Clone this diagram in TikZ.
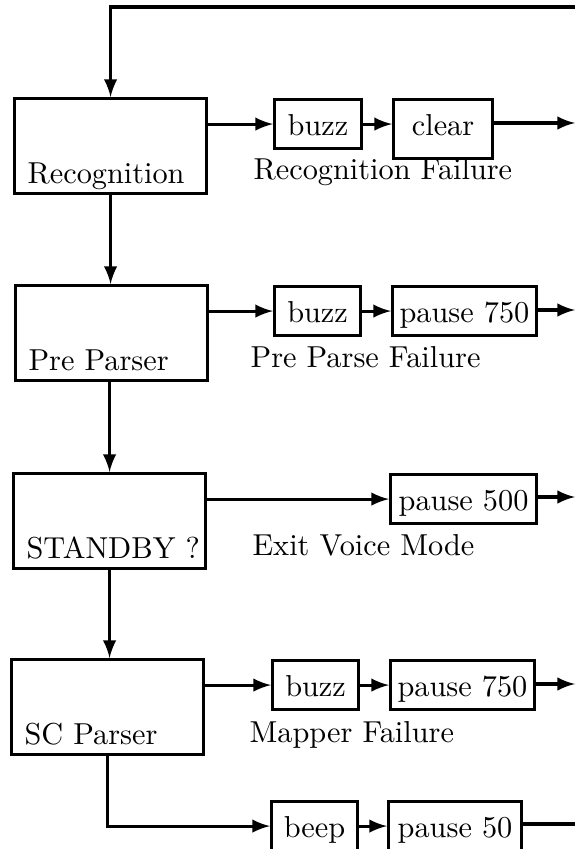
\documentclass[tikz,border=0pt]{standalone}
\usepackage{fontspec}
\setmainfont{Latin Modern Roman}
\tikzset{
  stage/.style={draw,line width=1pt,minimum width=63.4pt,minimum height=31.3pt,inner sep=0pt,anchor=north west},
  lbl/.style={anchor=base west,inner sep=0pt,xshift=4.6pt,yshift=3.7pt},
  act/.style={draw,line width=1pt,inner xsep=2pt,inner ysep=4.3pt,text height=7.6pt,text depth=0pt,anchor=north west},
  fail/.style={anchor=base west,inner sep=0pt},
  flow/.style={->,line width=1pt},
}
\begin{document}
\begin{tikzpicture}[>=latex,x=0.33pt,y=-0.33pt]
\useasboundingbox (0,0) rectangle (575,849);
% main stages
\node[stage,label={[lbl]south west:Recognition}] (rec) at (13,97) {};
\node[stage,label={[lbl]south west:Pre Parser}] (pre) at (14,284) {};
\node[stage,label={[lbl]south west:STANDBY ?}] (sb) at (12,472) {};
\node[stage,label={[lbl]south west:SC Parser}] (sc) at (10,658) {};
% actions
\node[act,minimum width=28.7pt] (rbuzz) at (273,98) {buzz};
\node[act,minimum width=32.7pt,text depth=3.3pt] (rclear) at (392,98) {clear};
\node[act,minimum width=28.4pt] (pbuzz) at (273,285) {buzz};
\node[act,minimum width=47.5pt] (ppause) at (391,285) {pause 750};
\node[act,minimum width=48.2pt] (vpause) at (389,473) {pause 500};
\node[act,minimum width=28.4pt] (mbuzz) at (271,659) {buzz};
\node[act,minimum width=47.5pt] (mpause) at (389,659) {pause 750};
\node[act,minimum width=28.4pt] (beep) at (270,800) {beep};
\node[act,minimum width=43.9pt] (bpause) at (387,800) {pause 50};
% failure names
\node[fail] (rfail) at (253,180) {Recognition Failure};
\node[fail] (pfail) at (250,368) {Pre Parse Failure};
\node[fail] (vfail) at (252,555) {Exit Voice Mode};
\node[fail] (mfail) at (249,742) {Mapper Failure};
% free ends
\coordinate (back) at (575,7);
\coordinate (rout) at (575,123);
\coordinate (pout) at (575,310);
\coordinate (vout) at (575,497);
\coordinate (mout) at (575,684);
\coordinate (bout) at (575,824);
% connectors
\draw[flow] (back) -| (rec.north);
\draw[flow] (rec.south) -- (rec.south |- pre.north);
\draw[flow] (pre.south -| sb.north) -- (sb.north);
\draw[flow] (sb.south) -- (sb.south |- sc.north);
\draw[flow] (sc.south) |- (beep.west);

\draw[flow] (rec.east |- rbuzz.west) -- (rbuzz.west);
\draw[flow] (rbuzz.east) -- (rbuzz.east -| rclear.west);
\draw[flow] (rclear.east |- rout) -- (rout);

\draw[flow] (pre.east |- pbuzz.west) -- (pbuzz.west);
\draw[flow] (pbuzz.east) -- (ppause.west);
\draw[flow] (ppause.east |- pout) -- (pout);

\draw[flow] (sb.east |- vpause.west) -- (vpause.west);
\draw[flow] (vpause.east |- vout) -- (vout);

\draw[flow] (sc.east |- mbuzz.west) -- (mbuzz.west);
\draw[flow] (mbuzz.east) -- (mpause.west);
\draw[flow] (mpause.east |- mout) -- (mout);

\draw[flow] (beep.east) -- (bpause.west);
\draw[line width=1pt] (bpause.east |- bout) -- (bout);

\end{tikzpicture}
\end{document}
